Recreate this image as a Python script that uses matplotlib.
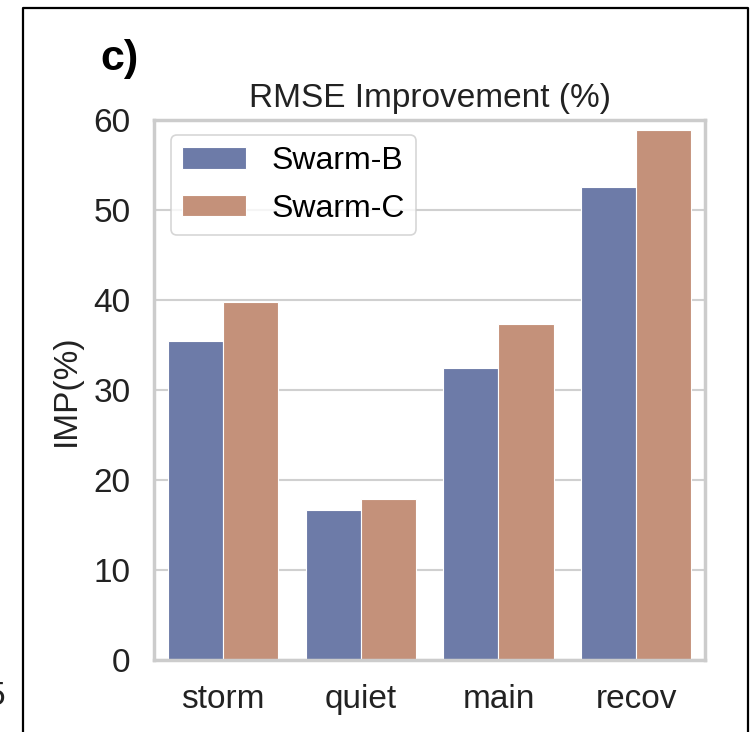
import matplotlib
matplotlib.use("Agg")
import matplotlib.pyplot as plt
import matplotlib.lines as mlines
import numpy as np

plt.rcParams["font.family"] = ["Liberation Sans", "DejaVu Sans"]

periods = ["storm", "quiet", "main", "recov"]
swarm_b = [35.5, 16.7, 32.5, 52.6]
swarm_c = [39.8, 17.9, 37.4, 58.9]
series = ["Swarm-B", "Swarm-C"]
colors = ["#6d7ba8", "#c4917a"]

fig = plt.figure(figsize=(7.51, 7.32), dpi=100)
ax = fig.add_axes([0.205, 0.0984, 0.734, 0.737])

x = np.arange(len(periods))
width = 0.4
ax.bar(x - width / 2, swarm_b, width, color=colors[0], edgecolor="white",
       linewidth=0.8, label=series[0], zorder=2)
ax.bar(x + width / 2, swarm_c, width, color=colors[1], edgecolor="white",
       linewidth=0.8, label=series[1], zorder=2)

ax.set_xlim(-0.5, len(periods) - 0.5)
ax.set_ylim(0, 60)
ax.set_yticks(np.arange(0, 61, 10))
ax.set_xticks(x)
ax.set_xticklabels(periods)
ax.tick_params(axis="both", length=0, labelsize=24, colors="#222222")
ax.tick_params(axis="y", pad=17)
ax.tick_params(axis="x", pad=17)

ax.yaxis.grid(True, color="#d0d0d0", linewidth=1.5, zorder=0)
ax.set_axisbelow(True)
for s in ax.spines.values():
    s.set_color("#cccccc")
    s.set_linewidth(2.5)

ax.set_ylabel("IMP(%)", fontsize=24, color="#222222", labelpad=8)
ax.set_title("RMSE Improvement (%)", fontsize=24, color="#222222", pad=10)

leg = ax.legend(loc="upper left", fontsize=23, handlelength=2.0,
                handleheight=0.66, borderpad=0.35, labelspacing=0.55,
                handletextpad=0.8, borderaxespad=0, fancybox=True,
                bbox_to_anchor=(0.031, 0.973))
leg.get_frame().set_edgecolor("#cccccc")
leg.get_frame().set_linewidth(1.2)

# panel label and the frame around the panel
fig.text(0.133, 0.919, "c)", fontsize=31, fontweight="bold", ha="left",
         va="center")
fig.text(0.007, 0.048, "5", fontsize=24, ha="right", va="center",
         color="#222222")
frame_x = [22.5 / 751, 22.5 / 751, 748 / 751, 748 / 751]
frame_y = [0.0, 1 - 8 / 732, 1 - 8 / 732, 0.0]
fig.add_artist(mlines.Line2D(frame_x, frame_y, color="black", linewidth=1.6,
                             transform=fig.transFigure))

fig.savefig("out.png", dpi=100)
